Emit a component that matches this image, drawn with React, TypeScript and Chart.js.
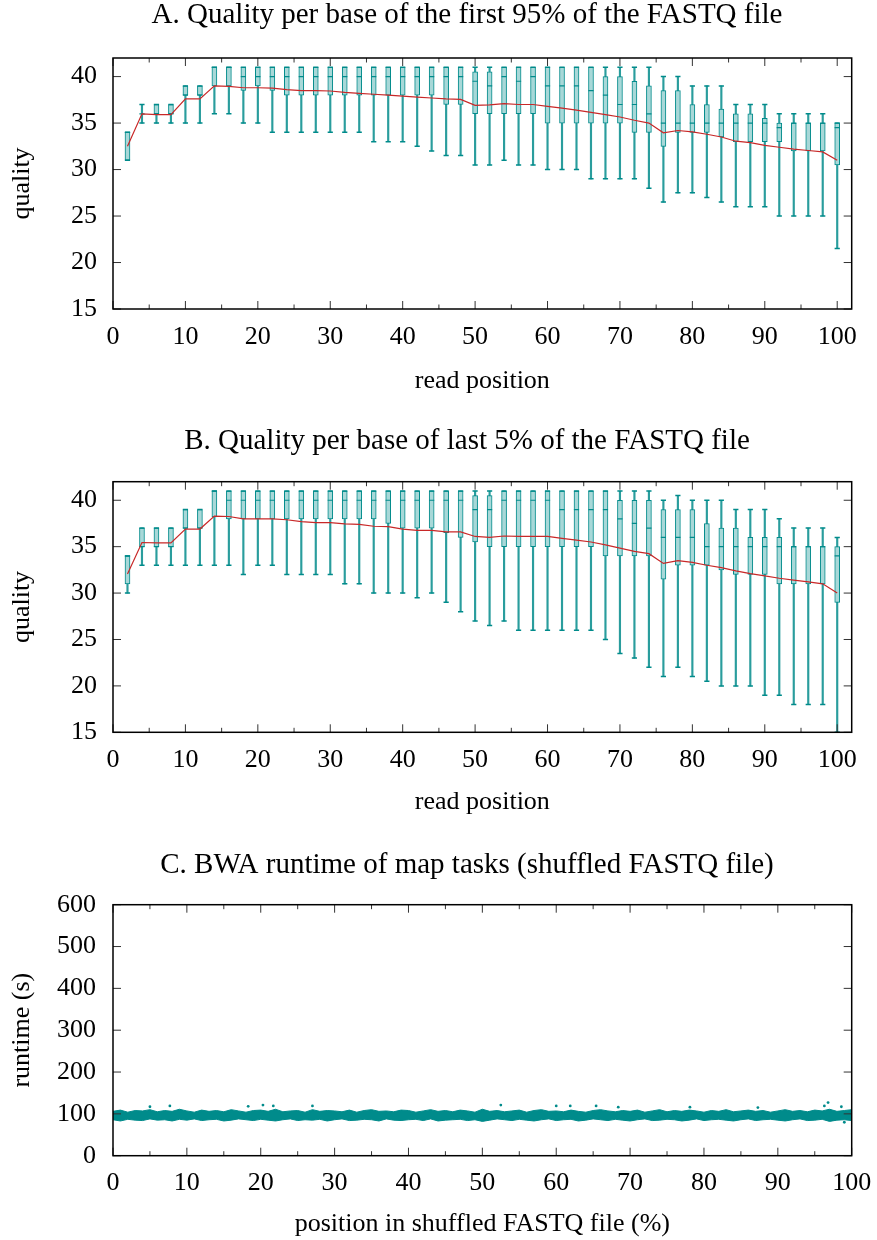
import React, { useEffect, useRef } from 'react';
import { Chart, registerables } from 'chart.js';
Chart.register(...registerables);

// ---------- data ----------
const readPositions = [2,4,6,8,10,12,14,16,18,20,22,24,26,28,30,32,34,36,38,40,42,44,46,48,50,52,54,56,58,60,62,64,66,68,70,72,74,76,78,80,82,84,86,88,90,92,94,96,98,100];

const aWhiskerLow = [31,35,35,35,35,35,36,36,35,35, 34,34,34,34,34,34,34,33,33,33, 32.5,32,31.5,31.5,30.5,30.5,31,30.5,30.5,30, 30,30,29,29,29,29,28,26.5,27.5,27.5, 27,26.5,26,26,26,25,25,25,25,21.5];
const aQ1 = [31,36,36,36,38,38,39,39,38.5,39, 38.5,38,38,38,38,38,38,38,38,38, 38,38,37,37,36,36,36,36,36,35, 35,35,35,35,35,34,34,32.5,34,34, 34,33.5,33,33,33,33,32,32,32,30.5];
const aMedian = [34,36,36,36,38,38,41,41,40,40, 40,40,40,40,40,40,40,40,40,40, 40,40,40,40,39.5,39,40,39.5,40,39, 39,39,38.5,38,37,37,36,35,35,35, 35,35,35,35,35,34.5,35,35,35,34.5];
const aQ3 = [34,36,37,37,39,39,41,41,41,41, 41,41,41,41,41,41,41,41,41,41, 41,41,41,41,40.5,40.5,41,41,41,41, 41,41,41,40,40,39.5,39,38.5,38.5,37, 37,36.5,36,36,35.5,35,35,35,35,35];
const aWhiskerHigh = [34,37,37,37,39,39,41,41,41,41, 41,41,41,41,41,41,41,41,41,41, 41,41,41,41,41,41,41,41,41,41, 41,41,41,41,41,41,41,40,40,39, 39,39,37,37,37,36,36,36,36,35];
const aMean = [32.5,36,35.9,35.9,37.6,37.6,39,38.95,38.8,38.8, 38.75,38.6,38.5,38.5,38.45,38.3,38.2,38.1,38.0,37.9, 37.8,37.7,37.6,37.55,36.9,36.95,37.1,37.0,37.0,36.8, 36.6,36.4,36.15,35.9,35.65,35.3,35.0,33.95,34.2,34.05, 33.8,33.5,33.05,32.9,32.6,32.4,32.2,32.05,31.9,31.0];

const bWhiskerLow = [30,33,33,33,33,33,33,33,32,33, 33,32,32,32,32,31,31,30,30,30, 29.5,30,29,28,27,26.5,27,26,26,26, 26,26,26,25,23.5,23,22,21,22,21, 20.5,20,20,20,19,19,18,18,18,15];
const bQ1 = [31,35,35,35,37,37,38.2,38,38,38, 38,38,38,38,38,38,38,38,37.5,37, 37,37,36.5,36,35.5,35,35,35,35,35, 35,35,35,34,34,34,34,31.5,33,33, 33,32.5,32,32,32,31,31,31,31,29];
const bMedian = [34,35,35,35,37,37,41,40,40,40, 40,40,40,40,40,40,40,40,40,40, 40,40,40,40,39,39,40,40,40,40, 39,39,39,39,38,37.5,37,36,36,36, 35,35,35,35,35,35,35,35,35,34];
const bQ3 = [34,37,37,37,39,39,41,41,41,41, 41,41,41,41,41,41,41,41,41,41, 41,41,41,41,40.5,40.5,41,41,41,41, 41,41,41,41,40,40,40,39,39,39, 37.5,37,37,36,36,36,35,35,35,35];
const bWhiskerHigh = [34,37,37,37,39,39,41,41,41,41, 41,41,41,41,41,41,41,41,41,41, 41,41,41,41,41,41,41,41,41,41, 41,41,41,41,41,41,41,40,40.5,40, 40,40,39,39,39,38,37,37,37,36];
const bMean = [32.05,35.45,35.4,35.4,36.9,36.9,38.3,38.25,38.0,38.0, 38.0,37.9,37.7,37.6,37.6,37.45,37.4,37.2,37.15,36.9, 36.75,36.75,36.6,36.6,36.1,36.0,36.15,36.1,36.1,36.1, 35.9,35.7,35.5,35.2,34.85,34.5,34.25,33.2,33.5,33.3, 33.0,32.75,32.4,32.1,31.85,31.6,31.4,31.2,31.0,30.0];

const runtimePositions = [0,1,2,3,4,5,6,7,8,9,10,11,12,13,14,15,16,17,18,19,20,21,22,23,24,25,26,27,28,29,30,31,32,33,34,35,36,37,38,39,40,41,42,43,44,45,46,47,48,49,50,51,52,53,54,55,56,57,58,59,60,61,62,63,64,65,66,67,68,69,70,71,72,73,74,75,76,77,78,79,80,81,82,83,84,85,86,87,88,89,90,91,92,93,94,95,96,97,98,99,100];
const runtimeUpper = [
  106,109,104,108,107,110,105,108,106,111,107,104,109,106,108,105,110,107,104,108,
  109,106,111,105,107,108,104,110,106,108,107,105,109,104,108,110,106,107,105,109,
  108,104,107,110,106,108,105,109,107,104,111,106,108,105,107,109,104,108,110,106,
  107,105,109,106,104,108,110,107,105,108,106,109,104,107,110,105,108,106,109,107,
  104,108,106,110,105,107,109,106,108,104,107,110,106,108,105,109,107,111,106,108,110];
const runtimeLower = [
  86,83,87,85,84,88,85,86,83,87,85,88,84,86,87,83,85,88,86,84,
  87,85,83,86,88,84,86,85,87,83,86,88,84,85,87,86,83,88,85,84,
  86,87,84,88,83,85,86,87,84,86,82,85,88,86,84,87,85,83,86,88,
  84,86,87,83,85,88,86,84,87,85,83,86,88,84,85,87,86,83,85,88,
  84,86,87,85,83,86,88,84,86,87,85,83,86,88,84,85,87,82,85,86,84];
const outlierX = [5,7.7,18.3,20.3,21.7,27,52.5,60,61.9,65.4,68.4,78.1,87.3,96.3,96.8,98.6,99];
const outlierY = [117,119,118,121,119,119,121,119,119,119,116,116,115,119,127,117,80];

// ---------- style ----------
const FONT = 'Liberation Serif';
const FS = 26;
const TITLE_FS = 29;
const LH = FS * 1.2;
const TEAL = '#008b8b';
const BOX_FILL = '#a8d8d8';
const RED = '#c82828';

const framePlugin = {
  id: 'gnuFrame',
  afterDatasetsDraw(chart: any, _args: any, opts: any) {
    const { ctx, chartArea: a, scales } = chart;
    const xs = scales.x, ys = scales.y;
    const major = 8, minor = 4.5;
    ctx.save();
    ctx.strokeStyle = '#333';
    ctx.lineWidth = 1;
    ctx.beginPath();
    xs.ticks.forEach((t: any) => {
      const px = xs.getPixelForValue(t.value);
      ctx.moveTo(px, a.bottom); ctx.lineTo(px, a.bottom - major);
      ctx.moveTo(px, a.top); ctx.lineTo(px, a.top + major);
      const m = t.value + (opts.xMinor || 0);
      if (opts.xMinor && m < xs.max) {
        const mx = xs.getPixelForValue(m);
        ctx.moveTo(mx, a.bottom); ctx.lineTo(mx, a.bottom - minor);
        ctx.moveTo(mx, a.top); ctx.lineTo(mx, a.top + minor);
      }
    });
    ys.ticks.forEach((t: any) => {
      const py = ys.getPixelForValue(t.value);
      ctx.moveTo(a.left, py); ctx.lineTo(a.left + major, py);
      ctx.moveTo(a.right, py); ctx.lineTo(a.right - major, py);
    });
    ctx.stroke();
    ctx.strokeStyle = '#000';
    ctx.lineWidth = 1.5;
    ctx.strokeRect(a.left, a.top, a.right - a.left, a.bottom - a.top);
    // panel title
    if (opts.title) {
      ctx.fillStyle = '#000';
      ctx.font = `${TITLE_FS}px "${FONT}"`;
      ctx.textAlign = 'center';
      ctx.textBaseline = 'alphabetic';
      ctx.fillText(opts.title, opts.titleX, opts.titleBaseline);
    }
    ctx.restore();
  },
};

type Layout = {
  title: string; titleBaseline: number; plotTop: number;
  xTitle: string; yTitle: string;
  xMin: number; xMax: number; yMin: number; yMax: number; yStep: number;
  xTickPad: number; xAxisH: number; bottomPad: number; yTickPad: number;
};

function makeOptions(l: Layout): any {
  const font = { family: FONT, size: FS, weight: 'normal' as const };
  return {
    responsive: false,
    animation: false,
    events: [],
    layout: { padding: { left: 0, right: 25.3, top: l.plotTop, bottom: l.bottomPad } },
    plugins: {
      legend: { display: false },
      tooltip: { enabled: false },
      title: { display: false },
      gnuFrame: { xMinor: 5, title: l.title, titleX: 467, titleBaseline: l.titleBaseline },
    },
    scales: {
      x: {
        type: 'linear', min: l.xMin, max: l.xMax, offset: false,
        grid: { display: false, drawTicks: false }, border: { display: false },
        ticks: { stepSize: 10, includeBounds: false, padding: l.xTickPad, color: '#000', font, maxRotation: 0, autoSkip: false },
        title: { display: true, text: l.xTitle, color: '#000', font, padding: { top: 0, bottom: 0 } },
        afterFit(s: any) { s.height = l.xAxisH; s.paddingLeft = 0; s.paddingRight = 0; },
      },
      y: {
        type: 'linear', min: l.yMin, max: l.yMax,
        grid: { display: false, drawTicks: false }, border: { display: false },
        ticks: { stepSize: l.yStep, includeBounds: false, padding: l.yTickPad, color: '#000', font },
        title: { display: true, text: l.yTitle, color: '#000', font, padding: { top: 22 - LH / 2, bottom: 0 } },
        afterFit(s: any) { s.width = 113; s.paddingTop = 0; s.paddingBottom = 0; },
      },
    },
  };
}

function boxDatasets(low: number[], q1: number[], med: number[], q3: number[], high: number[], mean: number[]): any[] {
  const pts = (vals: number[]) => readPositions.map((x, i) => ({ x, y: vals[i] }));
  return [
    { type: 'line', data: pts(mean), borderColor: RED, borderWidth: 1.2, pointRadius: 0, order: 0 },
    { type: 'line', data: pts(med), showLine: false, pointStyle: 'line', pointRadius: 2.6, borderColor: TEAL, pointBorderWidth: 1.2, order: 1 },
    { type: 'line', data: pts(low), showLine: false, pointStyle: 'line', pointRadius: 2.6, borderColor: TEAL, pointBorderWidth: 1.5, order: 2 },
    { type: 'line', data: pts(high), showLine: false, pointStyle: 'line', pointRadius: 2.6, borderColor: TEAL, pointBorderWidth: 1.5, order: 2 },
    { type: 'bar', data: readPositions.map((x, i) => ({ x, y: [q1[i], q3[i]] })), barThickness: 5, grouped: false, backgroundColor: BOX_FILL, borderColor: TEAL, borderWidth: 1, borderSkipped: false, order: 3 },
    { type: 'bar', data: readPositions.map((x, i) => ({ x, y: [low[i], high[i]] })), barThickness: 1.5, grouped: false, backgroundColor: '#2a9d9d', borderWidth: 0, order: 4 },
  ];
}

function useChart(ref: React.RefObject<HTMLCanvasElement>, build: () => any) {
  useEffect(() => {
    if (!ref.current) return;
    const chart = new Chart(ref.current, build());
    return () => chart.destroy();
  }, []);
}

export default function App() {
  const refA = useRef<HTMLCanvasElement>(null);
  const refB = useRef<HTMLCanvasElement>(null);
  const refC = useRef<HTMLCanvasElement>(null);

  useChart(refA, () => ({
    type: 'bar',
    data: { datasets: boxDatasets(aWhiskerLow, aQ1, aMedian, aQ3, aWhiskerHigh, aMean) },
    options: makeOptions({
      title: 'A. Quality per base of the first 95% of the FASTQ file', titleBaseline: 23, plotTop: 58,
      xTitle: 'read position', yTitle: 'quality', xMin: 0, xMax: 102, yMin: 15, yMax: 42, yStep: 5,
      xTickPad: 337 - 309 - LH / 2, xAxisH: 381 - 309 + LH / 2, bottomPad: 400 - 309 - (381 - 309 + LH / 2), yTickPad: 16,
    }),
    plugins: [framePlugin],
  }));

  useChart(refB, () => ({
    type: 'bar',
    data: { datasets: boxDatasets(bWhiskerLow, bQ1, bMedian, bQ3, bWhiskerHigh, bMean) },
    options: makeOptions({
      title: 'B. Quality per base of last 5% of the FASTQ file', titleBaseline: 29, plotTop: 61.7,
      xTitle: 'read position', yTitle: 'quality', xMin: 0, xMax: 102, yMin: 15, yMax: 42, yStep: 5,
      xTickPad: 340 - 312.3 - LH / 2, xAxisH: 382 - 312.3 + LH / 2, bottomPad: 400 - 312.3 - (382 - 312.3 + LH / 2), yTickPad: 16,
    }),
    plugins: [framePlugin],
  }));

  useChart(refC, () => ({
    type: 'line',
    data: {
      datasets: [
        { data: outlierX.map((x, i) => ({ x, y: outlierY[i] })), showLine: false, pointRadius: 1.4, pointBackgroundColor: TEAL, pointBorderWidth: 0 },
        { data: runtimePositions.map((x, i) => ({ x, y: runtimeUpper[i] })), borderColor: TEAL, backgroundColor: TEAL, borderWidth: 1, pointRadius: 0, fill: '+1' },
        { data: runtimePositions.map((x, i) => ({ x, y: runtimeLower[i] })), borderColor: TEAL, borderWidth: 1, pointRadius: 0, fill: false },
      ],
    },
    options: makeOptions({
      title: 'C. BWA runtime of map tasks (shuffled FASTQ file)', titleBaseline: 33, plotTop: 64.7,
      xTitle: 'position in shuffled FASTQ file (%)', yTitle: 'runtime (s)', xMin: 0, xMax: 100, yMin: 0, yMax: 600, yStep: 100,
      xTickPad: 343 - 315.7 - LH / 2, xAxisH: 384 - 315.7 + LH / 2, bottomPad: 400 - 315.7 - (384 - 315.7 + LH / 2), yTickPad: 17,
    }),
    plugins: [framePlugin],
  }));

  const cv = (top: number): React.CSSProperties => ({ position: 'absolute', left: 0, top, width: 877, height: 400, display: 'block' });

  return (
    <div style={{ position: 'absolute', left: 0, top: 0, width: 877, height: 1240, background: '#fff', overflow: 'hidden' }}>
      <canvas ref={refA} width={877} height={400} style={cv(0)} />
      <canvas ref={refB} width={877} height={400} style={cv(420)} />
      <canvas ref={refC} width={877} height={400} style={cv(840)} />
    </div>
  );
}
